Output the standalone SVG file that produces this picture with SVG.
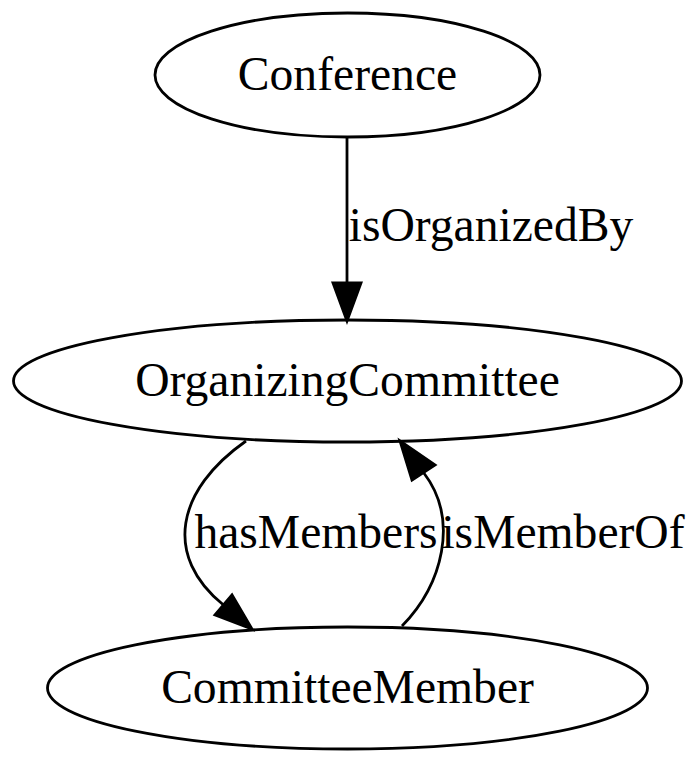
<svg xmlns="http://www.w3.org/2000/svg" width="700" height="762" viewBox="0 0 700 762">
<style>
.node ellipse{fill:none;stroke:#000;stroke-width:2.8}
text{font-family:"Liberation Serif","Times New Roman",serif;font-size:47.6px;fill:#000;text-anchor:middle}
.edge path{fill:none;stroke:#000;stroke-width:2.8}
.edge polygon{fill:#000;stroke:#000;stroke-width:2.8}
</style>
<rect width="700" height="762" fill="#fff"/>
<g id="node-Conference" class="node">
<ellipse cx="347.5" cy="75" rx="192.5" ry="62"/>
<text x="347.5" y="90">Conference</text>
</g>
<g id="node-OrganizingCommittee" class="node">
<ellipse cx="347.5" cy="381" rx="334" ry="61"/>
<text x="347.5" y="396">OrganizingCommittee</text>
</g>
<g id="node-CommitteeMember" class="node">
<ellipse cx="347.5" cy="688" rx="300" ry="61"/>
<text x="347.5" y="703">CommitteeMember</text>
</g>
<g id="connectors">
<g class="edge" id="edge-isOrganizedBy">
<path d="M347,138 L347,283"/>
<polygon points="333,283 361,283 347,321"/>
<text x="491" y="241">isOrganizedBy</text>
</g>
<g class="edge" id="edge-hasMembers">
<path d="M246,441 C176,490 163,556 223.5,605"/>
<polygon points="232,595 215,615 252,629"/>
<text x="316" y="548">hasMembers</text>
</g>
<g class="edge" id="edge-isMemberOf">
<path d="M402,626 C442,585 460,520 423.5,472.5"/>
<polygon points="412,480 435,465 400,441"/>
<text x="563" y="548">isMemberOf</text>
</g>
</g>
</svg>
